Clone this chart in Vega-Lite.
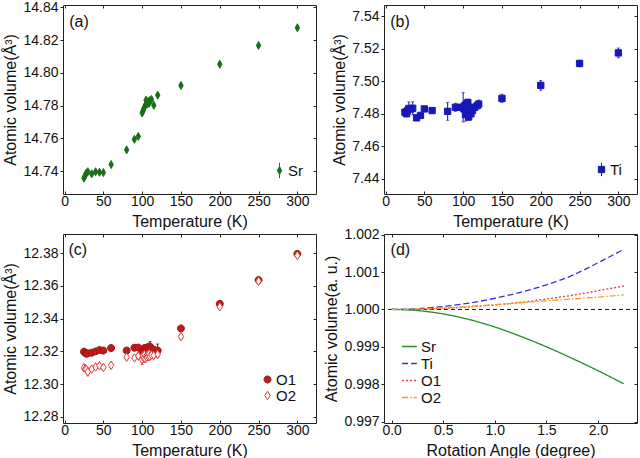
{
  "$schema": "https://vega.github.io/schema/vega-lite/v6.json",
  "background": "white",
  "padding": {"left": 2, "top": -1, "right": 1, "bottom": 0},
  "datasets": {
    "sr": [
      {"T": 25, "v": 14.7357, "e": 0.0008}, {"T": 26, "v": 14.7368, "e": 0.0008},
      {"T": 27, "v": 14.7377, "e": 0.0008}, {"T": 28, "v": 14.7389, "e": 0.0008},
      {"T": 30, "v": 14.7396, "e": 0.0008}, {"T": 35, "v": 14.7383, "e": 0.0008},
      {"T": 40, "v": 14.7396, "e": 0.0008}, {"T": 45, "v": 14.7393, "e": 0.0008},
      {"T": 50, "v": 14.7391, "e": 0.0008}, {"T": 60, "v": 14.744, "e": 0.0008},
      {"T": 80, "v": 14.753, "e": 0.0008}, {"T": 90, "v": 14.7594, "e": 0.0008},
      {"T": 95, "v": 14.7612, "e": 0.0008}, {"T": 100, "v": 14.7755, "e": 0.0008},
      {"T": 101, "v": 14.7768, "e": 0.0008}, {"T": 102, "v": 14.7779, "e": 0.0008},
      {"T": 103, "v": 14.779, "e": 0.0008}, {"T": 104, "v": 14.7802, "e": 0.0008},
      {"T": 105, "v": 14.7834, "e": 0.0008}, {"T": 106, "v": 14.7819, "e": 0.0008},
      {"T": 107, "v": 14.7811, "e": 0.0008}, {"T": 108, "v": 14.7826, "e": 0.0008},
      {"T": 109, "v": 14.7815, "e": 0.0008}, {"T": 110, "v": 14.7831, "e": 0.0008},
      {"T": 112, "v": 14.7838, "e": 0.0008}, {"T": 115, "v": 14.7802, "e": 0.0008},
      {"T": 120, "v": 14.7864, "e": 0.0008}, {"T": 150, "v": 14.7923, "e": 0.0009},
      {"T": 200, "v": 14.8053, "e": 0.0009}, {"T": 250, "v": 14.8168, "e": 0.0009},
      {"T": 300, "v": 14.8276, "e": 0.0009}
    ],
    "ti": [
      {"T": 25, "v": 7.481, "e": 0.0015}, {"T": 27, "v": 7.48, "e": 0.0015},
      {"T": 28, "v": 7.4818, "e": 0.002}, {"T": 30, "v": 7.4833, "e": 0.004},
      {"T": 33, "v": 7.483, "e": 0.002}, {"T": 35, "v": 7.4834, "e": 0.004},
      {"T": 40, "v": 7.4775, "e": 0.0015}, {"T": 45, "v": 7.479, "e": 0.0012},
      {"T": 50, "v": 7.483, "e": 0.0015}, {"T": 60, "v": 7.482, "e": 0.0012},
      {"T": 80, "v": 7.4815, "e": 0.0055}, {"T": 90, "v": 7.484, "e": 0.0025},
      {"T": 95, "v": 7.484, "e": 0.0015}, {"T": 100, "v": 7.484, "e": 0.009},
      {"T": 101, "v": 7.483, "e": 0.003}, {"T": 102, "v": 7.485, "e": 0.002},
      {"T": 103, "v": 7.4795, "e": 0.004}, {"T": 104, "v": 7.486, "e": 0.002},
      {"T": 105, "v": 7.481, "e": 0.003}, {"T": 106, "v": 7.487, "e": 0.002},
      {"T": 107, "v": 7.478, "e": 0.002}, {"T": 108, "v": 7.484, "e": 0.0025},
      {"T": 109, "v": 7.482, "e": 0.002}, {"T": 110, "v": 7.48, "e": 0.003},
      {"T": 111, "v": 7.483, "e": 0.0015}, {"T": 112, "v": 7.482, "e": 0.002},
      {"T": 115, "v": 7.484, "e": 0.0015}, {"T": 118, "v": 7.485, "e": 0.0015},
      {"T": 120, "v": 7.486, "e": 0.0025}, {"T": 150, "v": 7.4895, "e": 0.0025},
      {"T": 200, "v": 7.4975, "e": 0.003}, {"T": 250, "v": 7.511, "e": 0.002},
      {"T": 300, "v": 7.5175, "e": 0.003}
    ],
    "ox": [
      {"site": "O1", "T": 25, "v": 12.3198, "e": 0.002}, {"site": "O1", "T": 27, "v": 12.319, "e": 0.001},
      {"site": "O1", "T": 28, "v": 12.3186, "e": 0.001}, {"site": "O1", "T": 30, "v": 12.3188, "e": 0.001},
      {"site": "O1", "T": 35, "v": 12.3192, "e": 0.001}, {"site": "O1", "T": 40, "v": 12.32, "e": 0.001},
      {"site": "O1", "T": 45, "v": 12.3208, "e": 0.001}, {"site": "O1", "T": 50, "v": 12.3205, "e": 0.001},
      {"site": "O1", "T": 60, "v": 12.322, "e": 0.001}, {"site": "O1", "T": 80, "v": 12.3205, "e": 0.001},
      {"site": "O1", "T": 90, "v": 12.3222, "e": 0.001}, {"site": "O1", "T": 95, "v": 12.3223, "e": 0.001},
      {"site": "O1", "T": 100, "v": 12.319, "e": 0.004}, {"site": "O1", "T": 101, "v": 12.321, "e": 0.002},
      {"site": "O1", "T": 102, "v": 12.3185, "e": 0.005}, {"site": "O1", "T": 103, "v": 12.322, "e": 0.002},
      {"site": "O1", "T": 104, "v": 12.32, "e": 0.003}, {"site": "O1", "T": 105, "v": 12.3215, "e": 0.002},
      {"site": "O1", "T": 106, "v": 12.3195, "e": 0.003}, {"site": "O1", "T": 107, "v": 12.3225, "e": 0.002},
      {"site": "O1", "T": 108, "v": 12.3205, "e": 0.002}, {"site": "O1", "T": 109, "v": 12.3212, "e": 0.002},
      {"site": "O1", "T": 110, "v": 12.323, "e": 0.003}, {"site": "O1", "T": 111, "v": 12.32, "e": 0.002},
      {"site": "O1", "T": 112, "v": 12.3215, "e": 0.002}, {"site": "O1", "T": 115, "v": 12.321, "e": 0.002},
      {"site": "O1", "T": 120, "v": 12.3205, "e": 0.004}, {"site": "O1", "T": 150, "v": 12.334, "e": 0.001},
      {"site": "O1", "T": 200, "v": 12.349, "e": 0.001}, {"site": "O1", "T": 250, "v": 12.3635, "e": 0.001},
      {"site": "O1", "T": 300, "v": 12.3795, "e": 0.001},
      {"site": "O2", "T": 25, "v": 12.31, "e": 0.0015}, {"site": "O2", "T": 27, "v": 12.3095, "e": 0.0015},
      {"site": "O2", "T": 28, "v": 12.309, "e": 0.0015}, {"site": "O2", "T": 30, "v": 12.3075, "e": 0.0025},
      {"site": "O2", "T": 35, "v": 12.3092, "e": 0.0015}, {"site": "O2", "T": 40, "v": 12.3105, "e": 0.0015},
      {"site": "O2", "T": 45, "v": 12.3112, "e": 0.0015}, {"site": "O2", "T": 50, "v": 12.3102, "e": 0.0015},
      {"site": "O2", "T": 60, "v": 12.3115, "e": 0.0015}, {"site": "O2", "T": 80, "v": 12.3165, "e": 0.0015},
      {"site": "O2", "T": 90, "v": 12.316, "e": 0.0015}, {"site": "O2", "T": 95, "v": 12.3172, "e": 0.0015},
      {"site": "O2", "T": 100, "v": 12.315, "e": 0.003}, {"site": "O2", "T": 101, "v": 12.3175, "e": 0.002},
      {"site": "O2", "T": 102, "v": 12.316, "e": 0.002}, {"site": "O2", "T": 103, "v": 12.318, "e": 0.002},
      {"site": "O2", "T": 104, "v": 12.3155, "e": 0.002}, {"site": "O2", "T": 105, "v": 12.317, "e": 0.002},
      {"site": "O2", "T": 106, "v": 12.3165, "e": 0.002}, {"site": "O2", "T": 107, "v": 12.318, "e": 0.002},
      {"site": "O2", "T": 108, "v": 12.3168, "e": 0.002}, {"site": "O2", "T": 109, "v": 12.3185, "e": 0.002},
      {"site": "O2", "T": 110, "v": 12.317, "e": 0.002}, {"site": "O2", "T": 112, "v": 12.3178, "e": 0.002},
      {"site": "O2", "T": 115, "v": 12.3175, "e": 0.002}, {"site": "O2", "T": 120, "v": 12.3182, "e": 0.002},
      {"site": "O2", "T": 150, "v": 12.329, "e": 0.0015}, {"site": "O2", "T": 200, "v": 12.3472, "e": 0.001},
      {"site": "O2", "T": 250, "v": 12.3628, "e": 0.001}, {"site": "O2", "T": 300, "v": 12.3785, "e": 0.001}
    ],
    "rot": [
      {"site": "Sr", "a": 0, "v": 1.0}, {"site": "Sr", "a": 0.25, "v": 0.99997}, {"site": "Sr", "a": 0.5, "v": 0.99988},
      {"site": "Sr", "a": 0.75, "v": 0.99973}, {"site": "Sr", "a": 1.0, "v": 0.99953}, {"site": "Sr", "a": 1.25, "v": 0.99928},
      {"site": "Sr", "a": 1.5, "v": 0.999}, {"site": "Sr", "a": 1.75, "v": 0.99869}, {"site": "Sr", "a": 2.0, "v": 0.99836},
      {"site": "Sr", "a": 2.25, "v": 0.99801},
      {"site": "Ti", "a": 0, "v": 1.0}, {"site": "Ti", "a": 0.25, "v": 1.00002}, {"site": "Ti", "a": 0.5, "v": 1.00008},
      {"site": "Ti", "a": 0.75, "v": 1.00017}, {"site": "Ti", "a": 1.0, "v": 1.0003}, {"site": "Ti", "a": 1.25, "v": 1.00046},
      {"site": "Ti", "a": 1.5, "v": 1.00066}, {"site": "Ti", "a": 1.75, "v": 1.00091}, {"site": "Ti", "a": 2.0, "v": 1.00125},
      {"site": "Ti", "a": 2.25, "v": 1.00161},
      {"site": "O1", "a": 0, "v": 1.0}, {"site": "O1", "a": 0.25, "v": 1.00001}, {"site": "O1", "a": 0.5, "v": 1.00003},
      {"site": "O1", "a": 0.75, "v": 1.00007}, {"site": "O1", "a": 1.0, "v": 1.00012}, {"site": "O1", "a": 1.25, "v": 1.00019},
      {"site": "O1", "a": 1.5, "v": 1.00028}, {"site": "O1", "a": 1.75, "v": 1.00038}, {"site": "O1", "a": 2.0, "v": 1.0005},
      {"site": "O1", "a": 2.25, "v": 1.00063},
      {"site": "O2", "a": 0, "v": 1.0}, {"site": "O2", "a": 0.25, "v": 1.00001}, {"site": "O2", "a": 0.5, "v": 1.00004},
      {"site": "O2", "a": 0.75, "v": 1.00008}, {"site": "O2", "a": 1.0, "v": 1.00013}, {"site": "O2", "a": 1.25, "v": 1.00018},
      {"site": "O2", "a": 1.5, "v": 1.00023}, {"site": "O2", "a": 1.75, "v": 1.00028}, {"site": "O2", "a": 2.0, "v": 1.00033},
      {"site": "O2", "a": 2.25, "v": 1.00039}
    ]
  },
  "columns": 2,
  "bounds": "flush",
  "spacing": {"row": 40, "column": 68},
  "concat": [
    {
      "width": 253, "height": 189,
      "layer": [
        {
          "data": {"name": "sr"},
          "mark": {"type": "errorbar", "color": "#1a6e1a", "thickness": 1, "ticks": {"size": 3}},
          "encoding": {
            "x": {"field": "T", "type": "quantitative", "scale": {"domain": [-2, 324], "nice": false, "zero": false}, "axis": null},
            "y": {"field": "v", "type": "quantitative", "scale": {"domain": [14.726, 14.8415], "nice": false, "zero": false}, "axis": null},
            "yError": {"field": "e"}
          }
        },
        {
          "data": {"name": "sr"},
          "mark": {"type": "point", "shape": "M0,-1L0.55,0L0,1L-0.55,0Z", "size": 64, "filled": true, "opacity": 1, "strokeWidth": 1},
          "encoding": {
            "x": {"field": "T", "type": "quantitative", "scale": {"domain": [-2, 324], "nice": false, "zero": false},
                  "axis": {"values": [0, 50, 100, 150, 200, 250, 300], "title": "Temperature (K)", "tickSize": -3, "labelPadding": 3, "titlePadding": 5}},
            "y": {"field": "v", "type": "quantitative", "scale": {"domain": [14.726, 14.8415], "nice": false, "zero": false},
                  "axis": {"values": [14.74, 14.76, 14.78, 14.8, 14.82, 14.84], "format": ".2f", "title": "Atomic volume(Å³)"}},
            "fill": {"datum": "Sr", "scale": {"range": ["#1a6e1a"]},
                     "legend": {"orient": "bottom-right", "offset": 13, "symbolType": "M0,-1L0.55,0L0,1L-0.55,0Z M0,-1L0,-1.9M0,1L0,1.9", "symbolSize": 64}},
            "stroke": {"datum": "Sr", "scale": {"range": ["#1a6e1a"]},
                       "legend": {"orient": "bottom-right", "offset": 13, "symbolType": "M0,-1L0.55,0L0,1L-0.55,0Z M0,-1L0,-1.9M0,1L0,1.9", "symbolSize": 64}}
          }
        },
        {
          "data": {"values": [{}]},
          "mark": {"type": "text", "text": "(a)", "align": "left", "baseline": "middle", "fontSize": 16, "color": "#111"},
          "encoding": {
            "x": {"datum": 6, "type": "quantitative", "scale": {"domain": [-2, 324], "nice": false, "zero": false},
                  "axis": {"orient": "top", "values": [0, 50, 100, 150, 200, 250, 300], "labels": false, "title": null, "tickSize": -3}},
            "y": {"datum": 14.8313, "type": "quantitative", "scale": {"domain": [14.726, 14.8415], "nice": false, "zero": false},
                  "axis": {"orient": "right", "values": [14.74, 14.76, 14.78, 14.8, 14.82, 14.84], "labels": false, "title": null, "tickSize": -3}}
          }
        }
      ],
      "resolve": {"axis": {"x": "independent", "y": "independent"}}
    },
    {
      "width": 253, "height": 189,
      "layer": [
        {
          "data": {"name": "ti"},
          "mark": {"type": "errorbar", "color": "#1818b8", "thickness": 1, "ticks": {"size": 3}},
          "encoding": {
            "x": {"field": "T", "type": "quantitative", "scale": {"domain": [-2, 324], "nice": false, "zero": false}, "axis": null},
            "y": {"field": "v", "type": "quantitative", "scale": {"domain": [7.4306, 7.547], "nice": false, "zero": false}, "axis": null},
            "yError": {"field": "e"}
          }
        },
        {
          "data": {"name": "ti"},
          "mark": {"type": "point", "shape": "square", "size": 40, "filled": true, "opacity": 1, "strokeWidth": 1},
          "encoding": {
            "x": {"field": "T", "type": "quantitative", "scale": {"domain": [-2, 324], "nice": false, "zero": false},
                  "axis": {"values": [0, 50, 100, 150, 200, 250, 300], "title": "Temperature (K)", "tickSize": -3, "labelPadding": 3, "titlePadding": 5}},
            "y": {"field": "v", "type": "quantitative", "scale": {"domain": [7.4306, 7.547], "nice": false, "zero": false},
                  "axis": {"values": [7.44, 7.46, 7.48, 7.5, 7.52, 7.54], "format": ".2f", "title": "Atomic volume(Å³)"}},
            "fill": {"datum": "Ti", "scale": {"range": ["#1818b8"]},
                     "legend": {"orient": "bottom-right", "offset": 15, "symbolType": "M-1,-1H1V1H-1Z M0,-1L0,-2.1M0,1L0,2.1", "symbolSize": 40}},
            "stroke": {"datum": "Ti", "scale": {"range": ["#1818b8"]},
                       "legend": {"orient": "bottom-right", "offset": 15, "symbolType": "M-1,-1H1V1H-1Z M0,-1L0,-2.1M0,1L0,2.1", "symbolSize": 40}}
          }
        },
        {
          "data": {"values": [{}]},
          "mark": {"type": "text", "text": "(b)", "align": "left", "baseline": "middle", "fontSize": 16, "color": "#111"},
          "encoding": {
            "x": {"datum": 6, "type": "quantitative", "scale": {"domain": [-2, 324], "nice": false, "zero": false},
                  "axis": {"orient": "top", "values": [0, 50, 100, 150, 200, 250, 300], "labels": false, "title": null, "tickSize": -3}},
            "y": {"datum": 7.5365, "type": "quantitative", "scale": {"domain": [7.4306, 7.547], "nice": false, "zero": false},
                  "axis": {"orient": "right", "values": [7.44, 7.46, 7.48, 7.5, 7.52, 7.54], "labels": false, "title": null, "tickSize": -3}}
          }
        }
      ],
      "resolve": {"axis": {"x": "independent", "y": "independent"}}
    },
    {
      "width": 253, "height": 189,
      "layer": [
        {
          "data": {"name": "ox"},
          "transform": [{"filter": "datum.site === 'O2'"}],
          "mark": {"type": "errorbar", "color": "#e04848", "thickness": 1, "ticks": {"size": 3}},
          "encoding": {
            "x": {"field": "T", "type": "quantitative", "scale": {"domain": [-2, 324], "nice": false, "zero": false}, "axis": null},
            "y": {"field": "v", "type": "quantitative", "scale": {"domain": [12.2763, 12.3916], "nice": false, "zero": false}, "axis": null},
            "yError": {"field": "e"}
          }
        },
        {
          "data": {"name": "ox"},
          "transform": [{"filter": "datum.site === 'O1'"}],
          "mark": {"type": "errorbar", "color": "#3a2020", "thickness": 1, "ticks": {"size": 3}},
          "encoding": {
            "x": {"field": "T", "type": "quantitative", "scale": {"domain": [-2, 324], "nice": false, "zero": false}, "axis": null},
            "y": {"field": "v", "type": "quantitative", "scale": {"domain": [12.2763, 12.3916], "nice": false, "zero": false}, "axis": null},
            "yError": {"field": "e"}
          }
        },
        {
          "data": {"name": "ox"},
          "mark": {"type": "point", "opacity": 1, "strokeWidth": 1},
          "encoding": {
            "x": {"field": "T", "type": "quantitative", "scale": {"domain": [-2, 324], "nice": false, "zero": false},
                  "axis": {"values": [0, 50, 100, 150, 200, 250, 300], "title": "Temperature (K)", "tickSize": -3, "labelPadding": 3, "titlePadding": 5}},
            "y": {"field": "v", "type": "quantitative", "scale": {"domain": [12.2763, 12.3916], "nice": false, "zero": false},
                  "axis": {"values": [12.28, 12.3, 12.32, 12.34, 12.36, 12.38], "format": ".2f", "title": "Atomic volume(Å³)"}},
            "size": {"value": 60},
            "shape": {"field": "site", "type": "nominal",
                      "scale": {"domain": ["O1", "O2"], "range": ["M-0.9,0A0.9,0.9,0,1,0,0.9,0A0.9,0.9,0,1,0,-0.9,0Z", "M0,-1.1L0.7,0L0,1.1L-0.7,0Z"]},
                      "legend": {"orient": "bottom-right", "offset": 19, "symbolSize": 60, "rowPadding": -4,
                                 "encode": {"symbols": {"update": {"shape": {"signal": "datum.value === 'O1' ? 'M-0.9,0A0.9,0.9,0,1,0,0.9,0A0.9,0.9,0,1,0,-0.9,0Z M0,-0.9L0,-2.1M0,0.9L0,2.1' : 'M0,-1.1L0.7,0L0,1.1L-0.7,0Z M0,-1.1L0,-2.1M0,1.1L0,2.1'"}}}}}},
            "fill": {"field": "site", "type": "nominal", "scale": {"domain": ["O1", "O2"], "range": ["#c21a1a", "#ffffff"]},
                     "legend": {"orient": "bottom-right", "offset": 19, "symbolSize": 60, "rowPadding": -4}},
            "stroke": {"field": "site", "type": "nominal", "scale": {"domain": ["O1", "O2"], "range": ["#a01212", "#e03a3a"]},
                       "legend": {"orient": "bottom-right", "offset": 19, "symbolSize": 60, "rowPadding": -4}}
          }
        },
        {
          "data": {"values": [{}]},
          "mark": {"type": "text", "text": "(c)", "align": "left", "baseline": "middle", "fontSize": 16, "color": "#111"},
          "encoding": {
            "x": {"datum": 5, "type": "quantitative", "scale": {"domain": [-2, 324], "nice": false, "zero": false},
                  "axis": {"orient": "top", "values": [0, 50, 100, 150, 200, 250, 300], "labels": false, "title": null, "tickSize": -3}},
            "y": {"datum": 12.382, "type": "quantitative", "scale": {"domain": [12.2763, 12.3916], "nice": false, "zero": false},
                  "axis": {"orient": "right", "values": [12.28, 12.3, 12.32, 12.34, 12.36, 12.38], "labels": false, "title": null, "tickSize": -3}}
          }
        }
      ],
      "resolve": {"axis": {"x": "independent", "y": "independent"}}
    },
    {
      "width": 253, "height": 189,
      "layer": [
        {
          "data": {"values": [{}]},
          "mark": {"type": "rule", "color": "#111", "strokeWidth": 1, "strokeDash": [4, 3]},
          "encoding": {
            "y": {"datum": 1.0, "type": "quantitative", "scale": {"domain": [0.99696, 1.00202], "nice": false, "zero": false}, "axis": null}
          }
        },
        {
          "data": {"name": "rot"},
          "mark": {"type": "line", "strokeWidth": 1.3, "interpolate": "monotone"},
          "encoding": {
            "x": {"field": "a", "type": "quantitative", "scale": {"domain": [-0.074, 2.378], "nice": false, "zero": false},
                  "axis": {"values": [0, 0.5, 1, 1.5, 2], "format": ".1f", "title": "Rotation Angle (degree)", "tickSize": -3, "labelPadding": 3, "titlePadding": 5}},
            "y": {"field": "v", "type": "quantitative", "scale": {"domain": [0.99696, 1.00202], "nice": false, "zero": false},
                  "axis": {"values": [0.997, 0.998, 0.999, 1.0, 1.001, 1.002], "format": ".3f", "title": "Atomic volume(a. u.)"}},
            "color": {"field": "site", "type": "nominal",
                      "scale": {"domain": ["Sr", "Ti", "O1", "O2"], "range": ["#2a8a2a", "#3434c8", "#e03c3c", "#f0a020"]},
                      "legend": {"orient": "bottom-left", "offset": 17, "symbolType": "stroke", "symbolSize": 220, "symbolStrokeWidth": 1.4, "rowPadding": -4, "labelOffset": 3}},
            "strokeDash": {"field": "site", "type": "nominal",
                           "scale": {"domain": ["Sr", "Ti", "O1", "O2"], "range": [[1, 0], [6, 3], [2, 2], [6, 2, 1.5, 2]]},
                           "legend": {"orient": "bottom-left", "offset": 17, "symbolType": "stroke", "symbolSize": 220, "symbolStrokeWidth": 1.4, "rowPadding": -4, "labelOffset": 3}}
          }
        },
        {
          "data": {"values": [{}]},
          "mark": {"type": "text", "text": "(d)", "align": "left", "baseline": "middle", "fontSize": 16, "color": "#111"},
          "encoding": {
            "x": {"datum": -0.01, "type": "quantitative", "scale": {"domain": [-0.074, 2.378], "nice": false, "zero": false},
                  "axis": {"orient": "top", "values": [0, 0.5, 1, 1.5, 2], "labels": false, "title": null, "tickSize": -3}},
            "y": {"datum": 1.00159, "type": "quantitative", "scale": {"domain": [0.99696, 1.00202], "nice": false, "zero": false},
                  "axis": {"orient": "right", "values": [0.997, 0.998, 0.999, 1.0, 1.001, 1.002], "labels": false, "title": null, "tickSize": -3}}
          }
        }
      ],
      "resolve": {"axis": {"x": "independent", "y": "independent"}}
    }
  ],
  "resolve": {
    "scale": {"color": "independent", "fill": "independent", "stroke": "independent", "shape": "independent", "strokeDash": "independent"},
    "legend": {"color": "independent", "fill": "independent", "stroke": "independent", "shape": "independent", "strokeDash": "independent"}
  },
  "config": {
    "font": "Liberation Sans",
    "view": {"stroke": "#222", "strokeWidth": 1},
    "axis": {
      "grid": false, "domain": false, "ticks": true, "tickSize": 3, "tickColor": "#222", "tickWidth": 1,
      "labelFontSize": 14, "labelColor": "#111", "labelPadding": 2, "labelFlush": false, "labelOverlap": false,
      "titleFontSize": 16, "titleFontWeight": "normal", "titleColor": "#111", "titlePadding": 4
    },
    "legend": {
      "title": null, "labelFontSize": 15, "labelColor": "#111", "labelOffset": 1, "padding": 0,
      "symbolStrokeWidth": 1
    }
  }
}
